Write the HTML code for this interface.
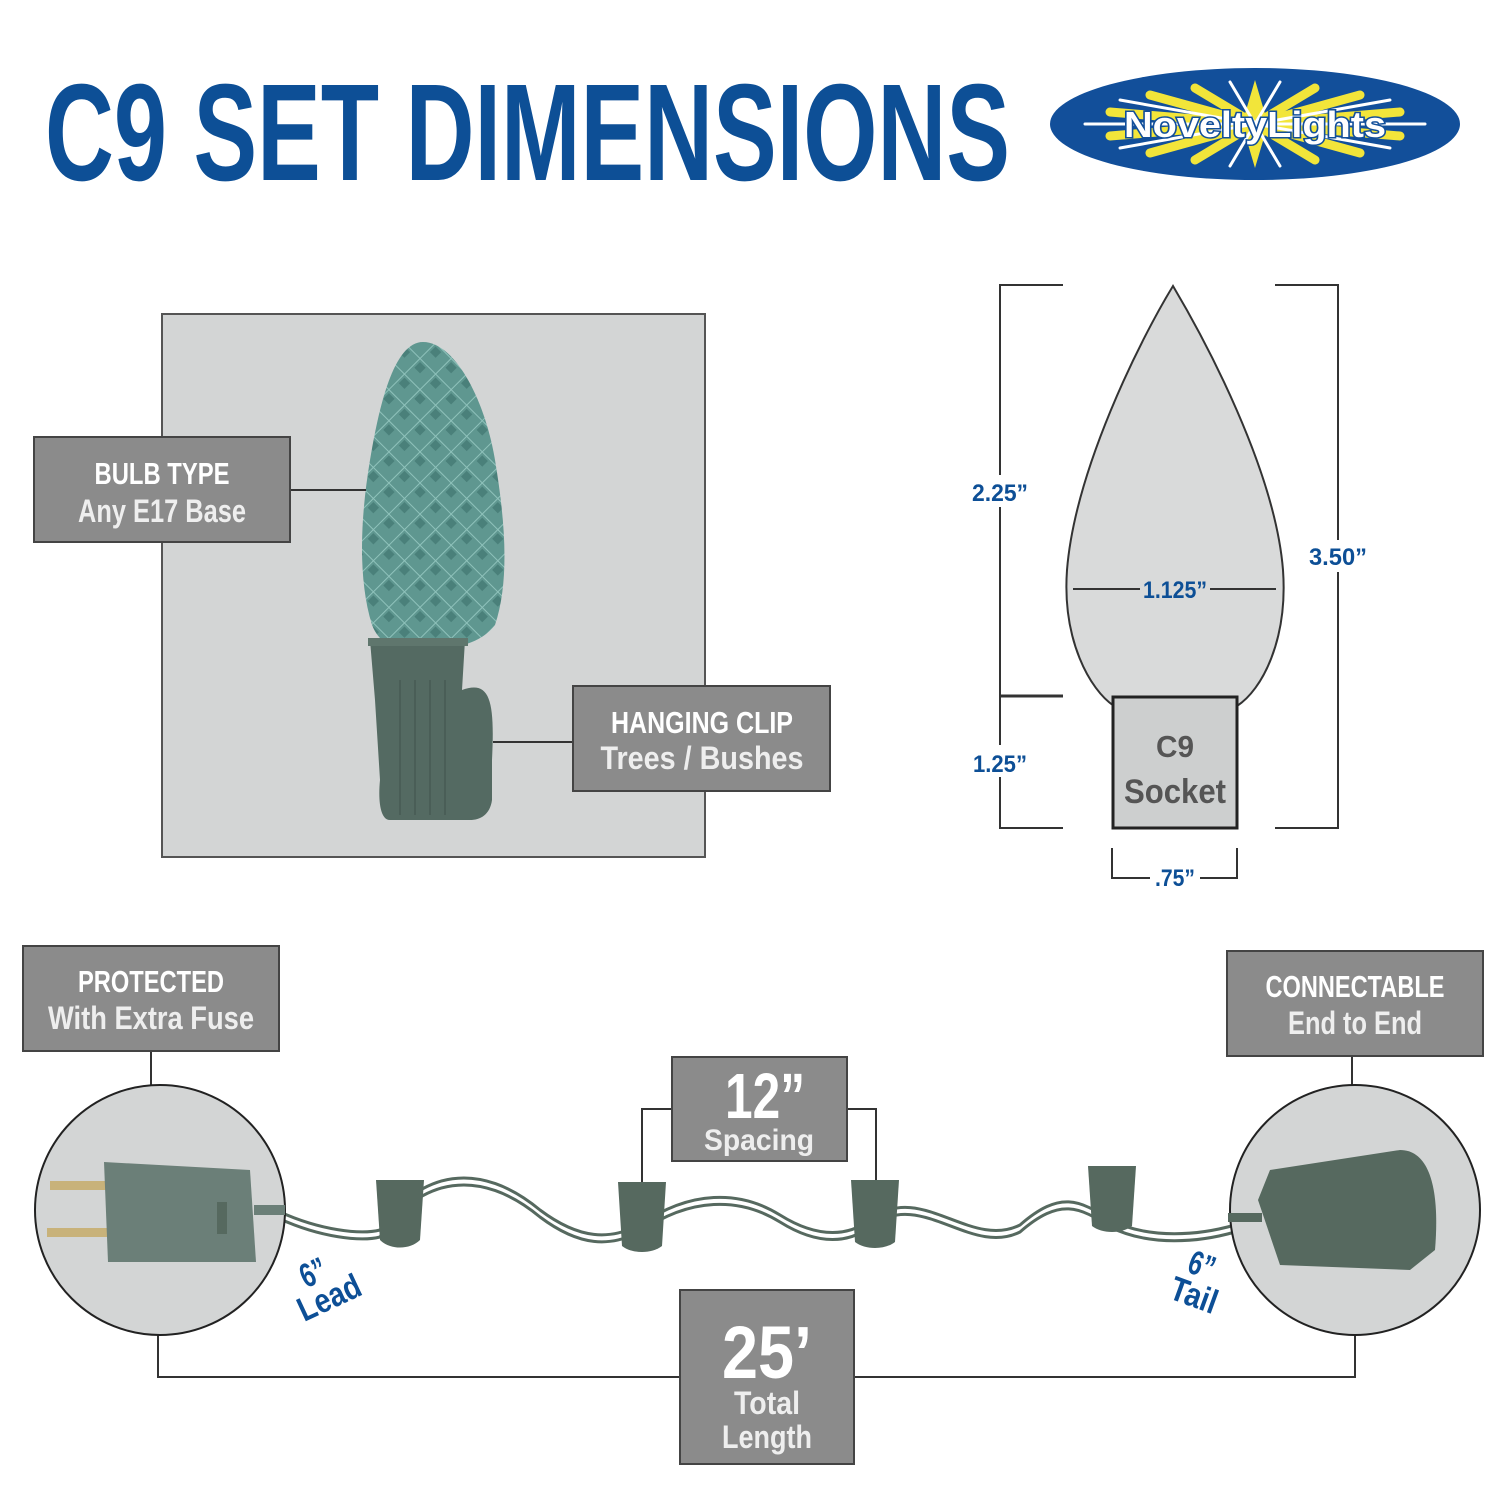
<!DOCTYPE html>
<html><head><meta charset="utf-8"><style>
html,body{margin:0;padding:0;background:#fff;}
svg{display:block;}
text{font-family:"Liberation Sans Narrow","Liberation Sans",sans-serif;font-weight:bold;}
</style></head><body>
<svg width="1500" height="1500" viewBox="0 0 1500 1500" xmlns="http://www.w3.org/2000/svg">
<defs>
<pattern id="facet" width="22" height="22" patternUnits="userSpaceOnUse" patternTransform="rotate(45)">
<rect width="22" height="22" fill="#5f9790"/>
<path d="M0 0H22M0 0V22" stroke="#8fc2bb" stroke-width="2"/>
<rect x="3" y="3" width="8" height="8" fill="#4a807a"/>
</pattern>
</defs>
<rect width="1500" height="1500" fill="#fff"/>
<!-- Title -->
<text x="45" y="180" font-size="138" fill="#0d4f96" textLength="965" lengthAdjust="spacingAndGlyphs">C9 SET DIMENSIONS</text>
<!-- Logo -->
<ellipse cx="1255" cy="124" rx="205" ry="56" fill="#124f9a"/>
<g stroke-linecap="round">
<path d="M1255 80 L1268 124 L1255 168 L1242 124Z" fill="#f2e53a"/>
<g stroke="#f2e53a" stroke-width="9">
<line x1="1195" y1="88" x2="1315" y2="160"/><line x1="1315" y1="88" x2="1195" y2="160"/>
<line x1="1110" y1="112" x2="1400" y2="136"/><line x1="1110" y1="136" x2="1400" y2="112"/>
<line x1="1150" y1="95" x2="1360" y2="153"/><line x1="1150" y1="153" x2="1360" y2="95"/>
</g>
<g stroke="#ffffff" stroke-width="3">
<line x1="1085" y1="124" x2="1425" y2="124"/>
<line x1="1120" y1="100" x2="1390" y2="148"/><line x1="1120" y1="148" x2="1390" y2="100"/>
<line x1="1230" y1="82" x2="1280" y2="166"/><line x1="1280" y1="82" x2="1230" y2="166"/>
</g>
</g>
<text x="1255" y="137" font-size="36" fill="#fff" stroke="#124f9a" stroke-width="3" paint-order="stroke" text-anchor="middle" textLength="262" lengthAdjust="spacingAndGlyphs" style="font-family:'Liberation Sans',sans-serif">NoveltyLights</text>

<!-- Photo panel -->
<rect x="162" y="314" width="543" height="543" fill="#d3d5d5" stroke="#555" stroke-width="2"/>
<path d="M423 342 C395 342 380 400 370 460 C360 520 358 580 372 625 C380 645 395 650 423 650 C450 650 480 645 495 625 C510 580 505 520 495 460 C485 400 455 342 423 342Z" fill="url(#facet)"/>
<path d="M370 640 H465 L462 690 C490 680 495 700 492 760 L492 800 C490 815 480 820 470 820 H390 C380 820 378 800 380 780 L375 700Z" fill="#546a62"/>
<g stroke="#4a5e57" stroke-width="2"><line x1="400" y1="680" x2="400" y2="815"/><line x1="415" y1="680" x2="415" y2="815"/><line x1="430" y1="680" x2="430" y2="815"/><line x1="445" y1="680" x2="445" y2="815"/></g>
<rect x="368" y="638" width="100" height="8" fill="#5f766d"/>
<line x1="290" y1="490" x2="366" y2="490" stroke="#333" stroke-width="2"/>
<rect x="34" y="437" width="256" height="105" fill="#8b8b8b" stroke="#444" stroke-width="2"/>
<text x="162" y="484" font-size="31" fill="#fff" text-anchor="middle" textLength="135" lengthAdjust="spacingAndGlyphs">BULB TYPE</text>
<text x="162" y="522" font-size="32" fill="#eee" text-anchor="middle" textLength="168" lengthAdjust="spacingAndGlyphs">Any E17 Base</text>
<line x1="493" y1="742" x2="573" y2="742" stroke="#333" stroke-width="2"/>
<rect x="573" y="686" width="257" height="105" fill="#8b8b8b" stroke="#444" stroke-width="2"/>
<text x="702" y="733" font-size="31" fill="#fff" text-anchor="middle" textLength="182" lengthAdjust="spacingAndGlyphs">HANGING CLIP</text>
<text x="702" y="769" font-size="32" fill="#eee" text-anchor="middle" textLength="203" lengthAdjust="spacingAndGlyphs">Trees / Bushes</text>

<!-- Bulb diagram -->
<path d="M1173 286 C1140 340 1075 470 1067 570 C1062 640 1090 690 1114 706 H1237 C1262 690 1288 640 1283 570 C1275 470 1205 340 1173 286Z" fill="#d9dada" stroke="#333" stroke-width="2"/>
<rect x="1113" y="697" width="124" height="131" fill="#cdcfcf" stroke="#222" stroke-width="3"/>
<text x="1175" y="757" font-size="31" fill="#555" text-anchor="middle" textLength="38" lengthAdjust="spacingAndGlyphs">C9</text>
<text x="1175" y="803" font-size="34" fill="#555" text-anchor="middle" textLength="102" lengthAdjust="spacingAndGlyphs">Socket</text>
<g stroke="#333" stroke-width="2" fill="none">
<path d="M1063 285 H1000 V828 H1063"/>
<line x1="1000" y1="696" x2="1063" y2="696" stroke-width="3"/>
<path d="M1275 285 H1338 V828 H1275"/>
<line x1="1073" y1="589" x2="1140" y2="589"/><line x1="1210" y1="589" x2="1276" y2="589"/>
<path d="M1112 848 V878 H1150"/><path d="M1200 878 H1237 V848"/>
</g>
<rect x="975" y="475" width="52" height="32" fill="#fff"/>
<rect x="975" y="745" width="52" height="32" fill="#fff"/>
<rect x="1310" y="540" width="56" height="32" fill="#fff"/>
<g fill="#0d4f96" font-size="24" text-anchor="middle">
<text x="1000" y="501" textLength="56" lengthAdjust="spacingAndGlyphs">2.25”</text>
<text x="1000" y="772" textLength="54" lengthAdjust="spacingAndGlyphs">1.25”</text>
<text x="1338" y="565" textLength="58" lengthAdjust="spacingAndGlyphs">3.50”</text>
<text x="1175" y="598" textLength="64" lengthAdjust="spacingAndGlyphs">1.125”</text>
<text x="1175" y="886" textLength="40" lengthAdjust="spacingAndGlyphs">.75”</text>
</g>

<!-- Bottom -->
<g stroke="#333" stroke-width="2" fill="none">
<line x1="151" y1="1051" x2="151" y2="1087"/>
<line x1="1352" y1="1056" x2="1352" y2="1087"/>
<path d="M672 1109 H642 V1182"/><path d="M847 1109 H876 V1180"/>
<path d="M158 1335 V1377 H680"/><path d="M854 1377 H1355 V1335"/>
</g>
<rect x="23" y="946" width="256" height="105" fill="#8b8b8b" stroke="#444" stroke-width="2"/>
<text x="151" y="992" font-size="31" fill="#fff" text-anchor="middle" textLength="146" lengthAdjust="spacingAndGlyphs">PROTECTED</text>
<text x="151" y="1029" font-size="32" fill="#eee" text-anchor="middle" textLength="206" lengthAdjust="spacingAndGlyphs">With Extra Fuse</text>
<rect x="1227" y="951" width="256" height="105" fill="#8b8b8b" stroke="#444" stroke-width="2"/>
<text x="1355" y="997" font-size="31" fill="#fff" text-anchor="middle" textLength="179" lengthAdjust="spacingAndGlyphs">CONNECTABLE</text>
<text x="1355" y="1034" font-size="32" fill="#eee" text-anchor="middle" textLength="134" lengthAdjust="spacingAndGlyphs">End to End</text>
<g fill="none" stroke="#56695f" stroke-width="3">
<path d="M280 1212 C320 1230 360 1235 380 1230 C420 1170 480 1160 540 1210 C580 1240 610 1240 640 1225 C690 1190 740 1190 780 1215 C820 1240 850 1235 870 1220 C920 1180 970 1250 1020 1225 C1060 1190 1080 1200 1110 1220 C1150 1240 1200 1235 1235 1225"/>
<path d="M280 1219 C320 1237 360 1242 380 1237 C420 1177 480 1167 540 1217 C580 1247 610 1247 640 1232 C690 1197 740 1197 780 1222 C820 1247 850 1242 870 1227 C920 1187 970 1257 1020 1232 C1060 1197 1080 1207 1110 1227 C1150 1247 1200 1242 1235 1232"/>
</g>
<g fill="#56695f">
<path d="M376 1180 H424 L420 1240 C410 1250 390 1250 380 1240Z"/>
<path d="M618 1182 H666 L662 1246 C652 1254 632 1254 622 1246Z"/>
<path d="M851 1180 H899 L895 1242 C885 1250 865 1250 855 1242Z"/>
<path d="M1088 1166 H1136 L1132 1226 C1122 1234 1102 1234 1092 1226Z"/>
</g>
<circle cx="160" cy="1210" r="125" fill="#d3d5d5" stroke="#222" stroke-width="2"/>
<rect x="50" y="1181" width="70" height="9" fill="#c8b27a"/>
<rect x="47" y="1228" width="70" height="9" fill="#c8b27a"/>
<path d="M104 1162 L250 1170 L256 1262 L108 1262Z" fill="#6b7f78"/>
<rect x="217" y="1202" width="10" height="32" fill="#56695f"/>
<path d="M254 1205 H285 V1215 H254Z" fill="#6b7f78"/>
<circle cx="1355" cy="1210" r="125" fill="#d3d5d5" stroke="#222" stroke-width="2"/>
<path d="M1270 1170 L1400 1150 C1430 1150 1440 1190 1435 1250 L1410 1270 L1280 1265 L1258 1200Z" fill="#56695f"/>
<path d="M1228 1213 H1262 V1222 H1228Z" fill="#56695f"/>
<rect x="672" y="1057" width="175" height="104" fill="#8b8b8b" stroke="#444" stroke-width="2"/>
<text x="765" y="1118" font-size="64" fill="#fff" text-anchor="middle" textLength="80" lengthAdjust="spacingAndGlyphs">12”</text>
<text x="759" y="1150" font-size="30" fill="#eee" text-anchor="middle" textLength="110" lengthAdjust="spacingAndGlyphs">Spacing</text>
<rect x="680" y="1290" width="174" height="174" fill="#8b8b8b" stroke="#444" stroke-width="2"/>
<text x="767" y="1378" font-size="74" fill="#fff" text-anchor="middle" textLength="90" lengthAdjust="spacingAndGlyphs">25’</text>
<text x="767" y="1414" font-size="32" fill="#eee" text-anchor="middle" textLength="66" lengthAdjust="spacingAndGlyphs">Total</text>
<text x="767" y="1448" font-size="32" fill="#eee" text-anchor="middle" textLength="90" lengthAdjust="spacingAndGlyphs">Length</text>
<g fill="#0d4f96" font-size="34">
<text transform="translate(318 1283) rotate(-25)" text-anchor="middle" textLength="26" lengthAdjust="spacingAndGlyphs">6”</text>
<text transform="translate(334 1308) rotate(-25)" text-anchor="middle" textLength="66" lengthAdjust="spacingAndGlyphs">Lead</text>
<text transform="translate(1198 1276) rotate(20)" text-anchor="middle" textLength="26" lengthAdjust="spacingAndGlyphs">6”</text>
<text transform="translate(1190 1306) rotate(20)" text-anchor="middle" textLength="48" lengthAdjust="spacingAndGlyphs">Tail</text>
</g>
</svg>
</body></html>
